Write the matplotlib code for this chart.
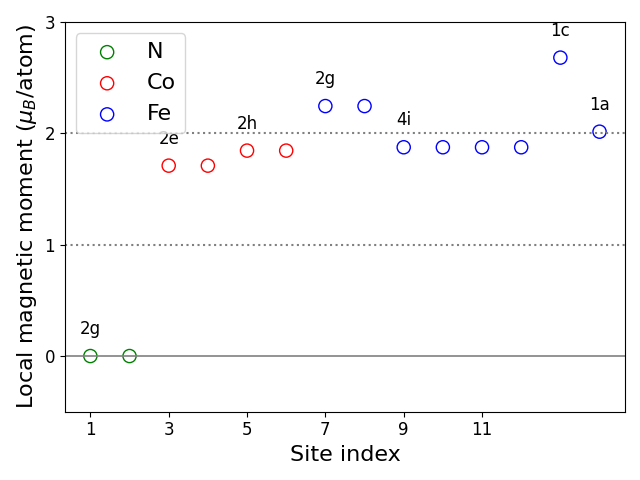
import matplotlib
matplotlib.use("Agg")
import matplotlib.pyplot as plt

n_sites = [1, 2]
n_moments = [0.0, 0.0]
co_sites = [3, 4, 5, 6]
co_moments = [1.71, 1.71, 1.845, 1.845]
fe_sites = [7, 8, 9, 10, 11, 12, 13, 14]
fe_moments = [2.245, 2.245, 1.875, 1.875, 1.875, 1.875, 2.68, 2.015]

wyckoff_x = [1, 3, 5, 7, 9, 13, 14]
wyckoff_y = [0.0, 1.71, 1.845, 2.245, 1.875, 2.68, 2.015]
wyckoff_labels = ["2g", "2e", "2h", "2g", "4i", "1c", "1a"]

fig, ax = plt.subplots(figsize=(6.4, 4.8), dpi=100)

ax.axhline(0, color='gray', lw=1.2)
ax.axhline(1, color='gray', ls=':', lw=1.5)
ax.axhline(2, color='gray', ls=':', lw=1.5)

ax.scatter(n_sites, n_moments, s=90, facecolors='none', edgecolors='g', label='N')
ax.scatter(co_sites, co_moments, s=90, facecolors='none', edgecolors='r', label='Co')
ax.scatter(fe_sites, fe_moments, s=90, facecolors='none', edgecolors='b', label='Fe')

for x, y, lab in zip(wyckoff_x, wyckoff_y, wyckoff_labels):
    ax.text(x, y + 0.16, lab, ha='center', va='bottom', fontsize=12)

ax.set_xlim(0.35, 14.65)
ax.set_ylim(-0.5, 3)
ax.set_xticks([1, 3, 5, 7, 9, 11])
ax.set_yticks([0, 1, 2, 3])
ax.tick_params(labelsize=12)
ax.set_xlabel("Site index", fontsize=16)
ax.set_ylabel(r"Local magnetic moment ($\mu_B$/atom)", fontsize=16)
ax.legend(loc='upper left', fontsize=16)

fig.tight_layout()
fig.savefig("out.png")
